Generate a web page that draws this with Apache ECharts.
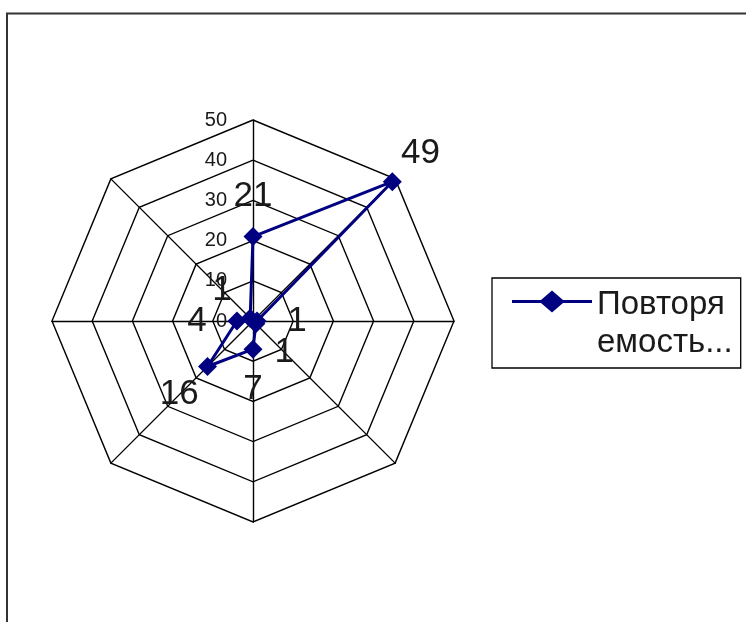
<!DOCTYPE html>
<html>
<head>
<meta charset="utf-8">
<script src="https://cdn.jsdelivr.net/npm/echarts@6/dist/echarts.min.js"></script>
<style>
html,body{margin:0;padding:0;background:#fff;}
#chart{width:746px;height:622px;}
</style>
</head>
<body>
<div id="chart"></div>
<script>
// Wind directions clockwise from the top
var categories = ['С', 'СВ', 'В', 'ЮВ', 'Ю', 'ЮЗ', 'З', 'СЗ'];
var values = [21, 49, 1, 1, 7, 16, 4, 1];
var seriesName = 'Повторяемость';
var legendText = 'Повторя\nемость...';
var radialTicks = [0, 10, 20, 30, 40, 50];

var FONT = 'Liberation Sans, Arial, sans-serif';
var CENTER = [253, 321];
var RADIUS = 201;
var MAXV = radialTicks[radialTicks.length - 1];
var STEP = radialTicks[1] - radialTicks[0];
var LABEL_DIST = 40;

// ECharts radar lays indicators counter-clockwise: reorder so the picture runs clockwise
var order = [0];
for (var i = categories.length - 1; i >= 1; i--) order.push(i);
var indicators = order.map(function (k) { return { name: categories[k], min: 0, max: MAXV }; });
var radarValues = order.map(function (k) { return values[k]; });

var n = categories.length;
var labelData = values.map(function (v, i) {
  var th = i * 360 / n * Math.PI / 180;
  return {
    value: [v, i * 360 / n],
    label: { offset: [LABEL_DIST * Math.sin(th), -LABEL_DIST * Math.cos(th)] }
  };
});

var chart = echarts.init(document.getElementById('chart'));
chart.setOption({
  animation: false,
  backgroundColor: '#fff',
  textStyle: { fontFamily: FONT },
  graphic: [{
    type: 'rect', silent: true, z: -1,
    shape: { x: 7, y: 13.5, width: 800, height: 700 },
    style: { fill: 'none', stroke: '#333', lineWidth: 2 }
  }],
  legend: {
    data: [seriesName],
    left: 492, top: 278,
    orient: 'vertical',
    borderColor: '#000', borderWidth: 1.3,
    padding: [8, 8, 6, 20],
    itemWidth: 80, itemHeight: 67,
    itemGap: 6,
    icon: 'path://M0,9.5 L29,9.5 L40,0 L51,9.5 L80,9.5 L80,12.5 L51,12.5 L40,22 L29,12.5 L0,12.5 Z M0,67',
    formatter: function () { return legendText; },
    textStyle: { fontSize: 33, lineHeight: 38, color: '#1a1a1a', fontFamily: FONT },
    selectedMode: false
  },
  radar: {
    center: CENTER,
    radius: RADIUS,
    startAngle: 90,
    shape: 'polygon',
    splitNumber: radialTicks.length - 1,
    indicator: indicators,
    axisName: { show: false },
    axisLine: { lineStyle: { color: '#000', width: 1.4 } },
    splitLine: { lineStyle: { color: '#000', width: 1.4 } },
    splitArea: { show: false },
    axisTick: { show: false },
    axisLabel: { show: false }
  },
  polar: { center: CENTER, radius: RADIUS },
  angleAxis: {
    type: 'value', min: 0, max: 360, startAngle: 90, clockwise: true, show: false
  },
  radiusAxis: {
    type: 'value', min: radialTicks[0], max: MAXV, interval: STEP,
    axisLine: { show: false }, axisTick: { show: false }, splitLine: { show: false },
    axisLabel: { show: true, margin: 26, fontSize: 20, color: '#1a1a1a', fontFamily: FONT }
  },
  series: [{
    name: seriesName,
    type: 'radar',
    symbol: 'diamond',
    symbolSize: 19,
    lineStyle: { color: '#000080', width: 3 },
    itemStyle: { color: '#000080' },
    data: [{ value: radarValues, name: seriesName }],
    z: 3
  }, {
    type: 'scatter',
    coordinateSystem: 'polar',
    symbolSize: 1,
    itemStyle: { color: 'rgba(0,0,0,0)', opacity: 1 },
    label: {
      show: true, position: 'inside', opacity: 1,
      fontSize: 35, color: '#1a1a1a', fontFamily: FONT,
      textBorderWidth: 0,
      formatter: function (p) { return String(p.value[0]); }
    },
    data: labelData,
    z: 5
  }]
});
</script>
</body>
</html>
